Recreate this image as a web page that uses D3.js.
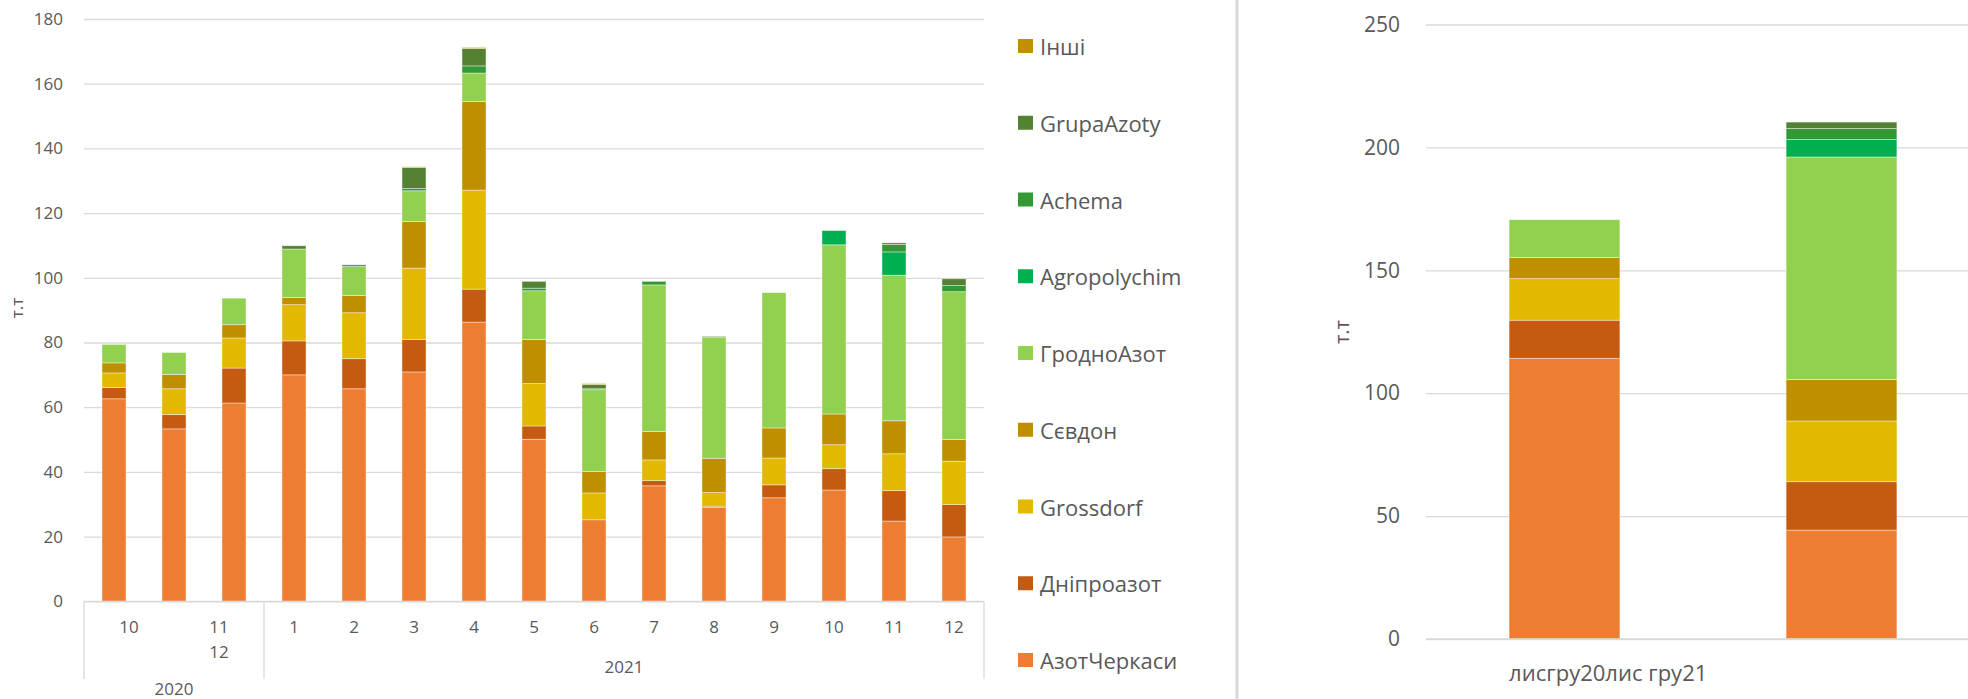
<!DOCTYPE html>
<html>
<head>
<meta charset="utf-8">
<script src="https://cdn.jsdelivr.net/npm/d3@7"></script>
<style>
  body { margin: 0; background: #fff; }
  text { font-family: 'Open Sans', sans-serif; fill: #595959; }
</style>
</head>
<body>
<svg id="chart" width="1968" height="699"></svg>
<script>
// series, bottom to top
const series = ['АзотЧеркаси', 'Дніпроазот', 'Grossdorf', 'Сєвдон', 'ГродноАзот', 'Agropolychim', 'Achema', 'GrupaAzoty', 'Інші'];
const colors = ['#ED7D31', '#C55A11', '#E3B800', '#BF8F00', '#92D050', '#00B050', '#339933', '#548235', '#C09000'];

// left chart: months oct 2020 .. dec 2021
const months = ['10', '11', '12', '1', '2', '3', '4', '5', '6', '7', '8', '9', '10', '11', '12'];
const years = ['2020', '2021'];
const yearSizes = [3, 12];
const labels2020 = ['10', '11\n12'];
const leftTicks = [0, 20, 40, 60, 80, 100, 120, 140, 160, 180];

const azotCherkasy = [62.6, 53.3, 61.3, 70.0, 65.7, 70.9, 86.3, 50.1, 25.2, 35.7, 29.0, 32.0, 34.4, 24.8, 19.9];
const dniproazot   = [3.5, 4.4, 10.8, 10.5, 9.3, 10.0, 10.2, 4.1, 0, 1.6, 0.4, 4.0, 6.6, 9.4, 10.0];
const grossdorf    = [4.5, 8.0, 9.3, 11.2, 14.2, 22.1, 30.6, 13.1, 8.3, 6.4, 4.2, 8.3, 7.4, 11.4, 13.4];
const sevdon       = [3.1, 4.4, 4.1, 2.2, 5.3, 14.4, 27.4, 13.6, 6.6, 8.8, 10.6, 9.3, 9.5, 10.2, 6.7];
const grodnoAzot   = [5.7, 6.8, 8.2, 15.0, 9.0, 9.5, 8.8, 15.1, 25.3, 45.3, 37.5, 41.8, 52.3, 45.0, 45.7];
const agropolychim = [0, 0, 0, 0, 0, 0, 0, 0, 0, 0, 0, 0, 4.4, 7.2, 0];
const achema       = [0, 0, 0, 0, 0, 0.7, 2.2, 0.8, 0.3, 1.1, 0, 0, 0, 2.3, 1.9];
const grupaAzoty   = [0, 0, 0, 1.0, 0.5, 6.5, 5.4, 2.1, 1.3, 0, 0.2, 0, 0, 0.5, 2.1];
const inshi        = [0, 0, 0, 0, 0, 0.2, 0.3, 0, 0.3, 0, 0, 0, 0, 0, 0];
const leftValues = [azotCherkasy, dniproazot, grossdorf, sevdon, grodnoAzot, agropolychim, achema, grupaAzoty, inshi];

// right chart: two periods
const rightCats = ['лисгру20лис гру21', ''];
const rightTicks = [0, 50, 100, 150, 200, 250];
const rightValues = [
  [114.2, 44.3],
  [15.5, 19.7],
  [16.9, 24.7],
  [8.6, 16.9],
  [15.4, 90.5],
  [0, 7.1],
  [0, 4.5],
  [0, 2.6],
  [0, 0]
];

const svg = d3.select('#chart');
const grid = '#d9d9d9';

function rows(values, n) {
  return d3.range(n).map(i => {
    const r = { idx: i };
    series.forEach((s, j) => { r[s] = values[j][i]; });
    return r;
  });
}
const stack = d3.stack().keys(series);

function drawBars(g, data, x, y) {
  g.selectAll('g.layer')
    .data(stack(data))
    .enter()
    .append('g')
    .attr('class', 'layer')
    .attr('fill', (d, i) => colors[i])
    .selectAll('rect')
    .data(d => d)
    .enter()
    .append('rect')
    .attr('display', d => d[1] - d[0] > 0 ? null : 'none')
    .attr('x', d => x(d.data.idx))
    .attr('width', x.bandwidth())
    .attr('y', d => y(d[1]))
    .attr('height', d => y(d[0]) - y(d[1]))
    .attr('stroke', '#fff')
    .attr('stroke-opacity', 0.5)
    .attr('stroke-width', 0.8);
}

function drawGrid(g, y, ticks, left, right, pad, size) {
  const ax = g.append('g')
    .attr('transform', `translate(${left},0)`)
    .call(d3.axisLeft(y).tickValues(ticks).tickSize(-(right - left)).tickPadding(pad));
  ax.select('.domain').remove();
  ax.selectAll('line').attr('stroke', grid).attr('stroke-width', 1.3);
  ax.selectAll('text').attr('fill', '#595959').style('font-size', size + 'px');
}

// ---------- left chart ----------
const left = svg.append('g');
const x = d3.scaleBand().domain(d3.range(months.length)).range([84, 984]).paddingInner(0.6).paddingOuter(0.3);
const y = d3.scaleLinear().domain([0, 180]).range([601.3, 19]);

drawGrid(left, y, leftTicks, 84, 984, 21, 17);
drawBars(left, rows(leftValues, months.length), x, y);

// category axis with two levels
left.append('line').attr('x1', 84).attr('x2', 984).attr('y1', y(0)).attr('y2', y(0))
  .attr('stroke', grid).attr('stroke-width', 1.3);

let start = 0;
const bounds = [84];
yearSizes.forEach(n => {
  start += n;
  bounds.push(start === months.length ? 984 : (x(start - 1) + x.bandwidth() + x(start)) / 2);
});
left.selectAll('line.sep')
  .data(bounds)
  .enter()
  .append('line')
  .attr('class', 'sep')
  .attr('x1', d => d).attr('x2', d => d)
  .attr('y1', y(0)).attr('y2', 679)
  .attr('stroke', grid).attr('stroke-width', 1.3);

// 2020 labels squeezed over the group
const w2020 = bounds[1] - bounds[0];
labels2020.forEach((lab, k) => {
  const cx = bounds[0] + (k + 0.5) * w2020 / labels2020.length;
  const t = left.append('text')
    .attr('y', 633)
    .attr('text-anchor', 'middle')
    .style('font-size', '17px');
  lab.split('\n').forEach((line, li) => {
    t.append('tspan').attr('x', cx).attr('dy', li === 0 ? 0 : 25).text(line);
  });
});

left.selectAll('text.month')
  .data(months.slice(yearSizes[0]))
  .enter()
  .append('text')
  .attr('class', 'month')
  .attr('x', (d, i) => x(i + yearSizes[0]) + x.bandwidth() / 2)
  .attr('y', 633)
  .attr('text-anchor', 'middle')
  .style('font-size', '17px')
  .text(d => d);

left.selectAll('text.year')
  .data(years)
  .enter()
  .append('text')
  .attr('class', 'year')
  .attr('x', (d, i) => (bounds[i] + bounds[i + 1]) / 2)
  .attr('y', (d, i) => i === 0 ? 695 : 673)
  .attr('text-anchor', 'middle')
  .style('font-size', '17px')
  .text(d => d);

left.append('text')
  .attr('transform', 'translate(23,308) rotate(-90)')
  .attr('text-anchor', 'middle')
  .style('font-size', '17px')
  .text('т.т');

// legend
const legendItems = series.slice().reverse();
const ly = d3.scalePoint().domain(legendItems).range([46, 660]);
const legend = svg.append('g').selectAll('g')
  .data(legendItems)
  .enter()
  .append('g')
  .attr('transform', d => `translate(1018,${ly(d)})`);
legend.append('rect')
  .attr('x', 0).attr('y', -7)
  .attr('width', 15).attr('height', 14)
  .attr('fill', d => colors[series.indexOf(d)]);
legend.append('text')
  .attr('x', 22).attr('y', 0)
  .attr('dominant-baseline', 'central')
  .style('font-size', '22px')
  .text(d => d);

// panel divider
svg.append('line').attr('x1', 1237).attr('x2', 1237).attr('y1', 0).attr('y2', 699)
  .attr('stroke', grid).attr('stroke-width', 3);

// ---------- right chart ----------
const right = svg.append('g');
const x2 = d3.scaleBand().domain(d3.range(rightCats.length)).range([1426, 1980]).paddingInner(0.6).paddingOuter(0.3);
const y2 = d3.scaleLinear().domain([0, 250]).range([639, 24.5]);

drawGrid(right, y2, rightTicks, 1426, 1968, 26, 21);
drawBars(right, rows(rightValues, rightCats.length), x2, y2);

right.append('line').attr('x1', 1426).attr('x2', 1968).attr('y1', y2(0)).attr('y2', y2(0))
  .attr('stroke', grid).attr('stroke-width', 1.3);

right.selectAll('text.cat')
  .data(rightCats)
  .enter()
  .append('text')
  .attr('class', 'cat')
  .attr('x', (d, i) => x2(i))
  .attr('y', 681)
  .style('font-size', '22px')
  .text(d => d);

right.append('text')
  .attr('transform', 'translate(1349,332) rotate(-90)')
  .attr('text-anchor', 'middle')
  .style('font-size', '20px')
  .text('т.т');
</script>
</body>
</html>
